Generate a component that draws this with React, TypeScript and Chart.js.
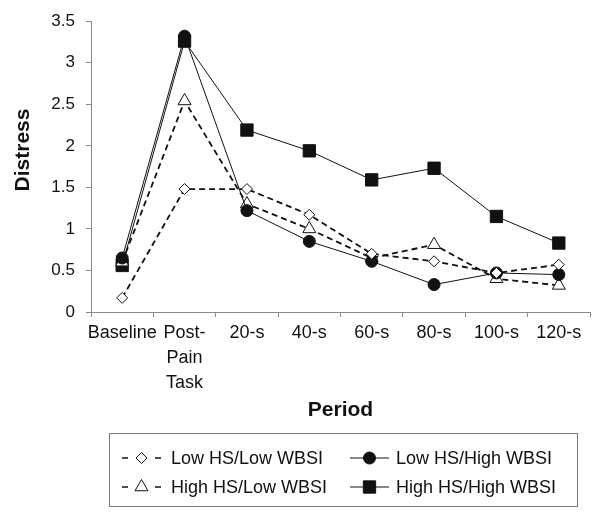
import React, { useEffect, useRef } from 'react';
import { Chart, registerables } from 'chart.js';

Chart.register(...registerables);

// ---- data ----
const periods: (string | string[])[] = ['Baseline', ['Post-', 'Pain', 'Task'], '20-s', '40-s', '60-s', '80-s', '100-s', '120-s'];
const seriesNames = ['Low HS/Low WBSI', 'Low HS/High WBSI', 'High HS/Low WBSI', 'High HS/High WBSI'];
const lowHsLowWbsi = [0.17, 1.48, 1.48, 1.17, 0.7, 0.61, 0.47, 0.57];
const lowHsHighWbsi = [0.65, 3.32, 1.22, 0.85, 0.61, 0.33, 0.47, 0.45];
const highHsLowWbsi = [0.6, 2.54, 1.3, 1.0, 0.65, 0.81, 0.4, 0.32];
const highHsHighWbsi = [0.56, 3.26, 2.19, 1.94, 1.59, 1.73, 1.15, 0.83];
const yTicks = [0, 0.5, 1, 1.5, 2, 2.5, 3, 3.5];
const yTitle = 'Distress';
const xTitle = 'Period';

const FONT = '"Liberation Sans", Arial, Helvetica, sans-serif';
const AXIS = '#8a8a8a';
const INK = '#111111';

type Mk = 'rectRot' | 'circle' | 'triangle' | 'rect';
const markerStyles: Mk[] = ['rectRot', 'circle', 'triangle', 'rect'];
const markerRadius = [5.5, 6, 7.5, 8.7];
const dashed = [true, false, true, false];
const filled = [false, true, false, true];

function drawMarker(ctx: CanvasRenderingContext2D, style: Mk, x: number, y: number, r: number, fill: boolean) {
  ctx.save();
  ctx.beginPath();
  if (style === 'circle') {
    ctx.arc(x, y, r, 0, Math.PI * 2);
  } else if (style === 'rect') {
    const s = Math.SQRT1_2 * r;
    ctx.rect(x - s, y - s, 2 * s, 2 * s);
  } else if (style === 'rectRot') {
    ctx.moveTo(x - r, y);
    ctx.lineTo(x, y - r);
    ctx.lineTo(x + r, y);
    ctx.lineTo(x, y + r);
    ctx.closePath();
  } else {
    const h = r;
    ctx.moveTo(x, y - h);
    ctx.lineTo(x + Math.sin(Math.PI * 2 / 3) * h, y + h / 2);
    ctx.lineTo(x - Math.sin(Math.PI * 2 / 3) * h, y + h / 2);
    ctx.closePath();
  }
  ctx.setLineDash([]);
  ctx.fillStyle = fill ? INK : '#ffffff';
  ctx.fill();
  ctx.lineWidth = 1;
  ctx.strokeStyle = INK;
  ctx.stroke();
  ctx.restore();
}

const customPlugin = {
  id: 'customDecor',
  afterDraw(chart: any) {
    const ctx: CanvasRenderingContext2D = chart.ctx;
    // y axis title
    ctx.save();
    ctx.translate(23, 150);
    ctx.rotate(-Math.PI / 2);
    ctx.font = `bold 21px ${FONT}`;
    ctx.textAlign = 'center';
    ctx.textBaseline = 'middle';
    ctx.fillStyle = INK;
    ctx.fillText(yTitle, 0, 0);
    ctx.restore();

    // legend box
    ctx.save();
    ctx.strokeStyle = '#7a7a7a';
    ctx.lineWidth = 1;
    ctx.strokeRect(109.5, 433.5, 468, 73);
    const cols = [{ x0: 122, x1: 161, tx: 171 }, { x0: 350, x1: 389, tx: 396 }];
    const rows = [458, 487];
    ctx.font = `18px ${FONT}`;
    ctx.textBaseline = 'middle';
    ctx.textAlign = 'left';
    ctx.fillStyle = INK;
    seriesNames.forEach((name, i) => {
      const c = cols[i % 2];
      const y = rows[Math.floor(i / 2)];
      const cx = (c.x0 + c.x1) / 2;
      ctx.save();
      ctx.strokeStyle = INK;
      if (dashed[i]) {
        ctx.lineWidth = 1.6;
        ctx.beginPath();
        ctx.moveTo(c.x0, y);
        ctx.lineTo(c.x0 + 6, y);
        ctx.moveTo(c.x1 - 6, y);
        ctx.lineTo(c.x1, y);
        ctx.stroke();
      } else {
        ctx.lineWidth = 1;
        ctx.beginPath();
        ctx.moveTo(c.x0, y);
        ctx.lineTo(c.x1, y);
        ctx.stroke();
      }
      ctx.restore();
      drawMarker(ctx, markerStyles[i], cx, y, markerRadius[i], filled[i]);
      ctx.fillStyle = INK;
      ctx.fillText(name, c.tx, y + 1);
    });
    ctx.restore();
  },
};

export default function App() {
  const ref = useRef<HTMLCanvasElement | null>(null);
  useEffect(() => {
    if (!ref.current) return;
    const seriesData = [lowHsLowWbsi, lowHsHighWbsi, highHsLowWbsi, highHsHighWbsi];
    const chart = new Chart(ref.current, {
      type: 'line',
      data: {
        labels: periods as any,
        datasets: seriesNames.map((name, i) => ({
          label: name,
          data: seriesData[i],
          borderColor: INK,
          borderWidth: dashed[i] ? 1.8 : 1,
          borderDash: dashed[i] ? [6, 4] : [],
          pointStyle: markerStyles[i],
          pointRadius: markerRadius[i],
          pointBackgroundColor: filled[i] ? INK : '#ffffff',
          pointBorderColor: INK,
          pointBorderWidth: 1,
          tension: 0,
          fill: false,
        })),
      },
      options: {
        responsive: false,
        animation: false,
        devicePixelRatio: 1,
        layout: { padding: { left: 0, right: 10, top: 13, bottom: 90 } },
        plugins: {
          legend: { display: false },
          tooltip: { enabled: false },
          title: { display: false },
        },
        scales: {
          x: {
            type: 'category',
            offset: true,
            grid: { display: true, drawOnChartArea: false, drawTicks: true, tickLength: 5, color: AXIS, offset: true },
            border: { display: true, color: AXIS, width: 1 },
            ticks: {
              color: INK,
              font: { family: FONT, size: 18, lineHeight: 25 / 18 },
              padding: 4,
              maxRotation: 0,
              autoSkip: false,
            },
            title: {
              display: true,
              text: xTitle,
              color: INK,
              font: { family: FONT, size: 21, weight: 'bold' },
              padding: { top: 0, bottom: 0 },
            },
            afterFit: (scale: any) => { scale.height = 111; },
          },
          y: {
            min: 0,
            max: 3.5,
            afterBuildTicks: (scale: any) => { scale.ticks = yTicks.map((v) => ({ value: v })); },
            grid: { display: true, drawOnChartArea: false, drawTicks: true, tickLength: 5, color: AXIS },
            border: { display: true, color: AXIS, width: 1 },
            ticks: {
              color: INK,
              font: { family: FONT, size: 17 },
              padding: 11,
              callback: (v: any) => String(Number(v)),
            },
            afterFit: (scale: any) => { scale.width = 91; },
          },
        },
      },
      plugins: [customPlugin],
    });
    return () => chart.destroy();
  }, []);
  return (
    <div style={{ position: 'absolute', left: 0, top: 0, width: 600, height: 513, background: '#fff' }}>
      <canvas ref={ref} width={600} height={513} />
    </div>
  );
}
